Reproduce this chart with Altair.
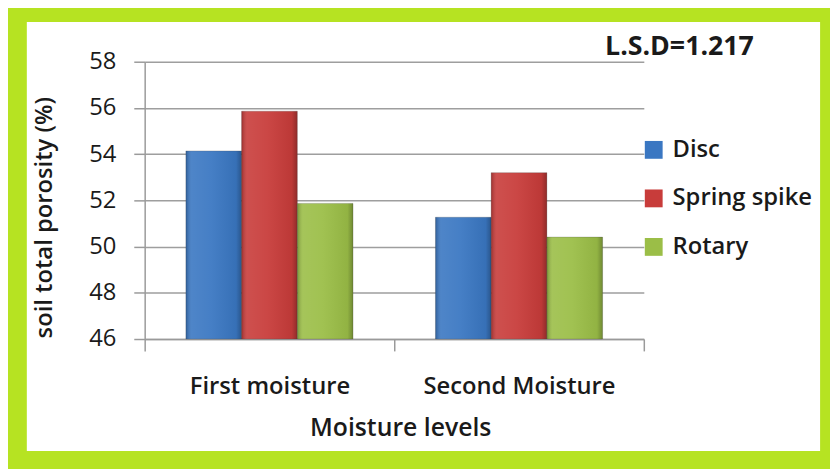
import altair as alt
import pandas as pd

categories = ["First moisture", "Second Moisture"]
series = ["Disc", "Spring spike", "Rotary"]
disc = [54.14, 51.27]
spring = [55.86, 53.2]
rotary = [51.87, 50.41]
colors = ["#3a77c2", "#c83c3a", "#9bbe47"]
y_ticks = [46, 48, 50, 52, 54, 56, 58]
lsd_label = ["L.S.D=1.217"]

rows = []
for i, c in enumerate(categories):
    for s, vals in zip(series, [disc, spring, rotary]):
        rows.append({"Moisture": c, "Tillage": s, "value": vals[i]})
df = pd.DataFrame(rows)

W, H = 504, 280
FONT = "Open Sans"
TXT = "#1a1a1a"

frame = alt.Chart(pd.DataFrame({"a": [0]})).mark_rect(
    fillOpacity=0, stroke="#b6e322", strokeWidth=40, clip=False
).encode(
    x=alt.value(-139), x2=alt.value(702), y=alt.value(-60), y2=alt.value(413)
)

x_enc = alt.X(
    "Moisture:N", sort=categories,
    scale=alt.Scale(paddingInner=0, paddingOuter=0),
    axis=alt.Axis(
        title="Moisture levels", labelAngle=0, tickBand="extent", labelLimit=0,
        labelFontSize=24, labelFont=FONT, labelColor=TXT, labelBaseline="top",
        labelFontWeight=600,
        labelPadding=24, tickSize=12, tickColor="#9a9a9a", domainColor="#9a9a9a",
        domainWidth=1.5, tickWidth=1.5,
        titleFontSize=25, titleFont=FONT, titleFontWeight=600, titleColor=TXT,
        titleX=258, titleY=89, titleBaseline="middle", titleAlign="center",
    ),
)
xoff_enc = alt.XOffset("Tillage:N", sort=series,
                       scale=alt.Scale(paddingInner=0, paddingOuter=0.74))
y_enc = alt.Y(
    "value:Q",
    scale=alt.Scale(domain=[46, 58], nice=False, zero=False),
    axis=alt.Axis(
        values=y_ticks, title="soil total porosity (%)", grid=True,
        gridColor="#9e9e9e", gridWidth=1.5, domainColor="#9a9a9a", domainWidth=1.5,
        tickColor="#9a9a9a", tickSize=11, tickWidth=1.5,
        labelFontSize=24, labelFont=FONT, labelColor=TXT, labelPadding=18,
        titleFontSize=24, titleFont=FONT, titleFontWeight=600, titleColor=TXT,
        titleAngle=-90, titleX=-101, titleY=157, titleAlign="center", titleBaseline="middle",
    ),
)

bars = alt.Chart(df).mark_bar(stroke="#444444", strokeWidth=0.5, strokeOpacity=0.5).encode(
    x=x_enc, xOffset=xoff_enc, y=y_enc, y2=alt.datum(46),
    color=alt.Color(
        "Tillage:N", sort=series,
        scale=alt.Scale(domain=series, range=colors),
        legend=alt.Legend(
            title=None, orient="none", legendX=502, legendY=77,
            symbolType="square", symbolSize=324, symbolStrokeWidth=0,
            labelFontSize=24, labelFont=FONT, labelColor=TXT, labelFontWeight=600,
            rowPadding=25, labelOffset=7, labelLimit=0,
        ),
    ),
)

shade = alt.Chart(df).mark_bar(
    fill=alt.Gradient(
        gradient="linear", x1=0, x2=1, y1=0, y2=0,
        stops=[
            alt.GradientStop(offset=0, color="rgba(0,0,0,0.22)"),
            alt.GradientStop(offset=0.1, color="rgba(255,255,255,0.10)"),
            alt.GradientStop(offset=0.45, color="rgba(255,255,255,0.06)"),
            alt.GradientStop(offset=0.9, color="rgba(0,0,0,0.06)"),
            alt.GradientStop(offset=1, color="rgba(0,0,0,0.28)"),
        ],
    )
).encode(x=alt.X("Moisture:N", sort=categories), xOffset=xoff_enc,
         y=alt.Y("value:Q"), y2=alt.datum(46))

lsd = alt.Chart(pd.DataFrame({"t": lsd_label})).mark_text(
    font=FONT, fontSize=27, fontWeight="bold", color=TXT, align="center", baseline="middle"
).encode(text="t:N", x=alt.value(540), y=alt.value(-15))

chart = alt.layer(bars, shade, lsd, frame).properties(
    width=W, height=H,
    background="white",
    padding={"left": 138, "top": 52, "right": 188, "bottom": 129},
    autosize=alt.AutoSizeParams(type="none"),
).configure_view(stroke=None)

chart.save("out.html", embed_options={"renderer": "svg", "actions": False})
